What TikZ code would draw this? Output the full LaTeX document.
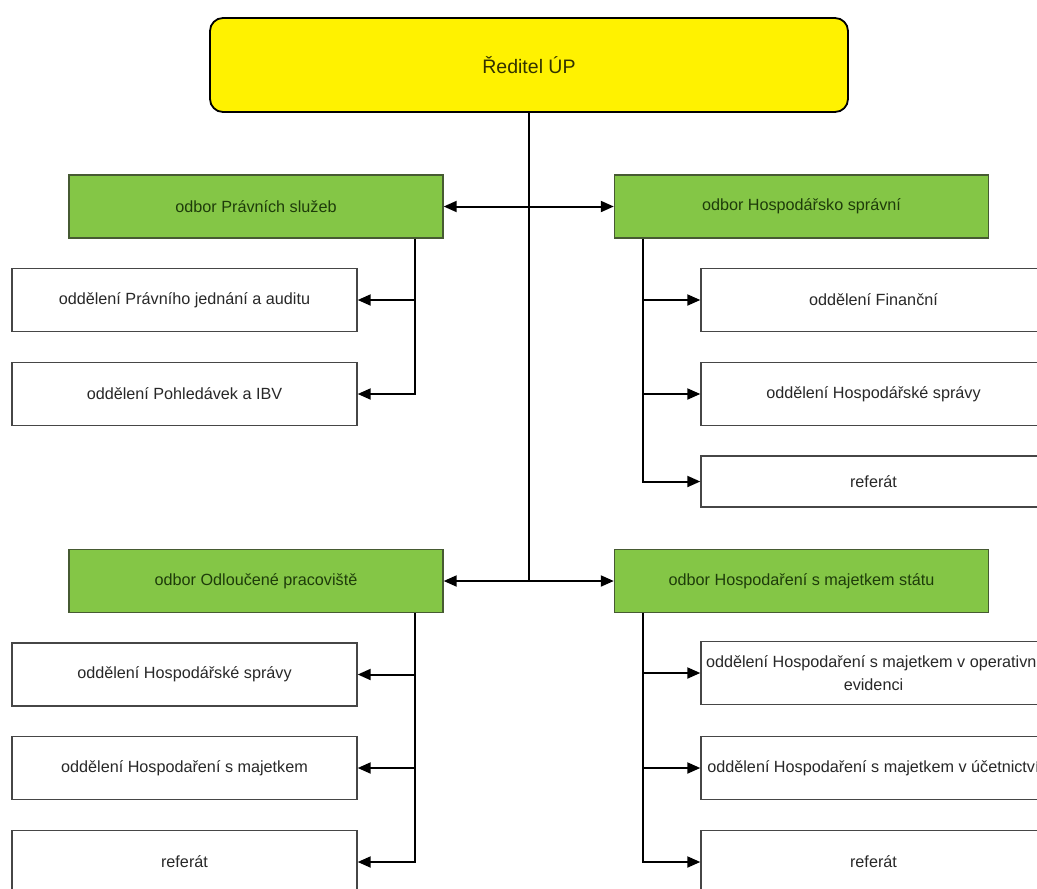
\documentclass[tikz,border=0pt]{standalone}
\usepackage{fontspec}
\setmainfont{Liberation Sans}
\usetikzlibrary{arrows.meta}
\definecolor{deptgreen}{RGB}{132,198,70}
\definecolor{greenline}{RGB}{70,90,50}
\definecolor{greentext}{RGB}{30,60,10}
\definecolor{boxline}{RGB}{70,70,70}
\definecolor{textgray}{RGB}{40,40,40}
\definecolor{ceotext}{RGB}{50,50,0}
\begin{document}
\begin{tikzpicture}[x=1pt,y=-1pt,
  ceobox/.style={draw=black, line width=1.8pt, fill=yellow, rounded corners=13pt,
    minimum width=638pt, minimum height=94pt, inner sep=0pt,
    font=\fontsize{19.5}{22}\selectfont, text=ceotext},
  odbor/.style={draw=greenline, line width=1.4pt, fill=deptgreen,
    minimum width=374pt, minimum height=63pt, inner sep=0pt,
    font=\fontsize{16.2}{20}\selectfont, text=greentext},
  oddel/.style={draw=boxline, line width=1.4pt, fill=white,
    minimum width=345pt, minimum height=63pt, inner sep=0pt, align=center,
    font=\fontsize{16.2}{22.5}\selectfont, text=textgray},
  link/.style={draw=black, line width=2pt},
  arr/.style={link, -{Triangle[length=13pt,width=11pt]}},
  darr/.style={link, {Triangle[length=13pt,width=11pt]}-{Triangle[length=13pt,width=11pt]}}
]
\useasboundingbox (0,0) rectangle (1037,889);
\fill[white] (0,0) rectangle (1037,889);
\clip (0,0) rectangle (1037,889);

% director
\node[ceobox] (ceo) at (529,65) {Ředitel ÚP};

% departments
\node[odbor] (g1) at (256,206.5) {odbor Právních služeb};
\node[odbor] (g2) at (801.5,206.5) {odbor Hospodářsko správní};
\node[odbor] (g3) at (256,581) {odbor Odloučené pracoviště};
\node[odbor] (g4) at (801.5,581) {odbor Hospodaření s majetkem státu};

% sections of the legal department
\node[oddel] (a1) at (184.5,300) {oddělení Právního jednání a auditu};
\node[oddel] (a2) at (184.5,394) {oddělení Pohledávek a IBV};

% sections of the administrative department
\node[oddel] (b1) at (873.5,300) {oddělení Finanční};
\node[oddel] (b2) at (873.5,394) {oddělení Hospodářské správy};
\node[oddel, minimum height=51pt] (b3) at (873.5,481.5) {referát};

% sections of the detached office
\node[oddel] (c1) at (184.5,674.5) {oddělení Hospodářské správy};
\node[oddel] (c2) at (184.5,768) {oddělení Hospodaření s majetkem};
\node[oddel] (c3) at (184.5,862) {referát};

% sections of the state property department
\node[oddel] (d1) at (873.5,673) {oddělení Hospodaření s majetkem v operativní\\evidenci};
\node[oddel] (d2) at (873.5,768) {oddělení Hospodaření s majetkem v účetnictví};
\node[oddel] (d3) at (873.5,862) {referát};

% main trunk and department links
\draw[link] (ceo.south) -- (ceo.south |- g3.east);
\draw[darr] (g1.east) -- (g2.west);
\draw[darr] (g3.east) -- (g4.west);

% branch points below the departments
\coordinate (lb1) at ([xshift=-29pt]g1.south east);
\coordinate (rb1) at ([xshift=29pt]g2.south west);
\coordinate (lb2) at ([xshift=-29pt]g3.south east);
\coordinate (rb2) at ([xshift=29pt]g4.south west);

\draw[arr] (lb1) |- (a2.east);
\draw[arr] (lb1 |- a1.east) -- (a1.east);

\draw[arr] (rb1) |- (b3.west);
\draw[arr] (rb1 |- b1.west) -- (b1.west);
\draw[arr] (rb1 |- b2.west) -- (b2.west);

\draw[arr] (lb2) |- (c3.east);
\draw[arr] (lb2 |- c1.east) -- (c1.east);
\draw[arr] (lb2 |- c2.east) -- (c2.east);

\draw[arr] (rb2) |- (d3.west);
\draw[arr] (rb2 |- d1.west) -- (d1.west);
\draw[arr] (rb2 |- d2.west) -- (d2.west);
\end{tikzpicture}
\end{document}
